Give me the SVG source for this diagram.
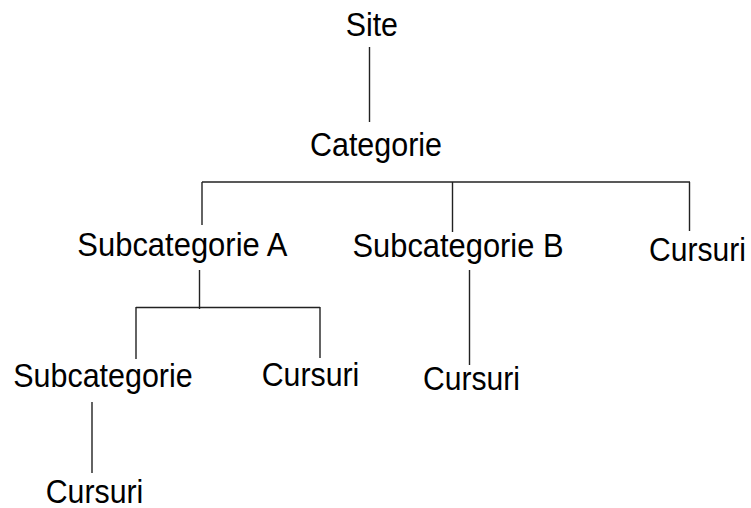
<svg xmlns="http://www.w3.org/2000/svg" width="751" height="508" viewBox="0 0 751 508">
<style>
text{font-family:"Liberation Sans",Arial,sans-serif;font-size:34px;fill:#000}
.c line{stroke:#222;stroke-width:1.4;fill:none}
</style>
<rect width="751" height="508" fill="#fff"/>
<g class="c" id="connectors">
<line x1="369.5" y1="47" x2="369.5" y2="122"/>
<line x1="202" y1="182" x2="690" y2="182"/>
<line x1="202" y1="182" x2="202" y2="225"/>
<line x1="452.5" y1="182" x2="452.5" y2="232"/>
<line x1="689.5" y1="182" x2="689.5" y2="231"/>
<line x1="199.5" y1="270" x2="199.5" y2="309"/>
<line x1="136" y1="307.5" x2="320" y2="307.5"/>
<line x1="136" y1="307" x2="136" y2="359"/>
<line x1="320" y1="307" x2="320" y2="358"/>
<line x1="469.5" y1="270" x2="469.5" y2="365"/>
<line x1="92" y1="402" x2="92" y2="473"/>
</g>
<g id="site"><text x="345.7" y="36" textLength="52.3" lengthAdjust="spacingAndGlyphs">Site</text></g>
<g id="categorie"><text x="310" y="156" textLength="132" lengthAdjust="spacingAndGlyphs">Categorie</text></g>
<g id="subcatA"><text x="77.3" y="256" textLength="210" lengthAdjust="spacingAndGlyphs">Subcategorie A</text></g>
<g id="subcatB"><text x="352.5" y="256.7" textLength="211" lengthAdjust="spacingAndGlyphs">Subcategorie B</text></g>
<g id="cursuri1"><text x="649" y="261" textLength="97" lengthAdjust="spacingAndGlyphs">Cursuri</text></g>
<g id="subcat"><text x="13.3" y="386.7" textLength="179.4" lengthAdjust="spacingAndGlyphs">Subcategorie</text></g>
<g id="cursuri2"><text x="261.7" y="385.7" textLength="97.6" lengthAdjust="spacingAndGlyphs">Cursuri</text></g>
<g id="cursuri3"><text x="423" y="390" textLength="97" lengthAdjust="spacingAndGlyphs">Cursuri</text></g>
<g id="cursuri4"><text x="45.7" y="503.3" textLength="97.6" lengthAdjust="spacingAndGlyphs">Cursuri</text></g>
</svg>
